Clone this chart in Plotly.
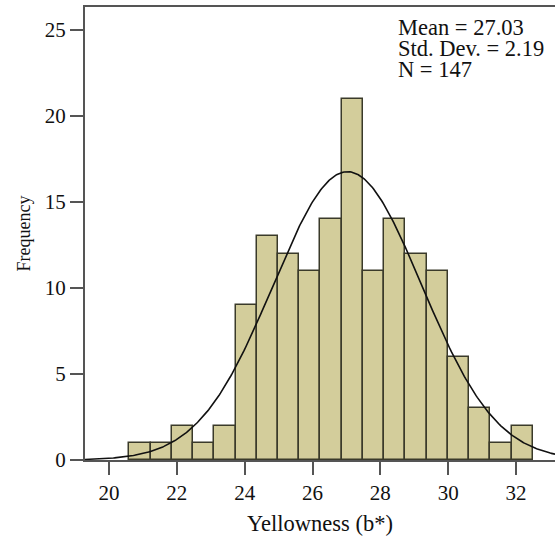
import numpy as np
import plotly.graph_objects as go

# Histogram data
bin_start = 20.60
bin_width = 0.626
counts = [1, 1, 2, 1, 2, 9, 13, 12, 11, 14, 21, 11, 14, 12, 11, 6, 3, 1, 2]

# Summary statistics shown on the chart
mean_val = 27.03
sd_val = 2.19
n_val = 147

x_ticks = [20, 22, 24, 26, 28, 30, 32]
y_ticks = [0, 5, 10, 15, 20, 25]
x_range = [19.292, 33.15]
y_range = [0, 26.34]

centers = [bin_start + bin_width * (i + 0.5) for i in range(len(counts))]

# Fitted normal curve scaled to the histogram
xc = np.linspace(x_range[0], x_range[1], 400)
yc = n_val * bin_width / (sd_val * np.sqrt(2 * np.pi)) * np.exp(-0.5 * ((xc - mean_val) / sd_val) ** 2)

fig = go.Figure()
fig.add_trace(go.Bar(
    x=centers, y=counts, width=bin_width,
    marker=dict(color="rgb(211,205,155)", line=dict(color="#3a3a2a", width=1.5)),
    showlegend=False, hoverinfo="skip",
))
fig.add_trace(go.Scatter(
    x=xc, y=yc, mode="lines", line=dict(color="#111111", width=1.6),
    showlegend=False, hoverinfo="skip",
))

font_family = "Liberation Serif"
fig.update_layout(
    width=555, height=540,
    margin=dict(l=85, r=0, t=7, b=80),
    paper_bgcolor="white", plot_bgcolor="white",
    font=dict(family=font_family, size=21, color="#111111"),
    bargap=0,
    xaxis=dict(
        range=x_range, tickvals=x_ticks, ticktext=[str(v) for v in x_ticks],
        showgrid=False, zeroline=False,
        showline=True, linecolor="#555555", linewidth=2, mirror=True,
        ticks="outside", ticklen=13, tickwidth=2, tickcolor="#555555",
        tickfont=dict(size=21, family=font_family),
        title=dict(text="Yellowness (b*)", font=dict(size=22.5, family=font_family), standoff=11),
    ),
    yaxis=dict(
        range=y_range, tickvals=y_ticks, ticktext=[str(v) for v in y_ticks],
        showgrid=False, zeroline=False,
        showline=True, linecolor="#555555", linewidth=2,
        ticks="outside", ticklen=13, tickwidth=2, tickcolor="#555555",
        tickfont=dict(size=21, family=font_family),
        title=dict(text="Frequency", font=dict(size=18, family=font_family), standoff=9),
    ),
)

stats_lines = ["Mean = %.2f" % mean_val, "Std. Dev. = %.2f" % sd_val, "N = %d" % n_val]
stats_y = [25.17, 23.95, 22.73]
for txt, yy in zip(stats_lines, stats_y):
    fig.add_annotation(x=28.49, y=yy, xref="x", yref="y", text=txt, showarrow=False,
                       xanchor="left", yanchor="middle", height=21, borderpad=0,
                       font=dict(size=22.5, family=font_family, color="#111111"))

fig.write_html("out.html", config={"displayModeBar": False},
               post_script="document.body.style.margin='0px';")
